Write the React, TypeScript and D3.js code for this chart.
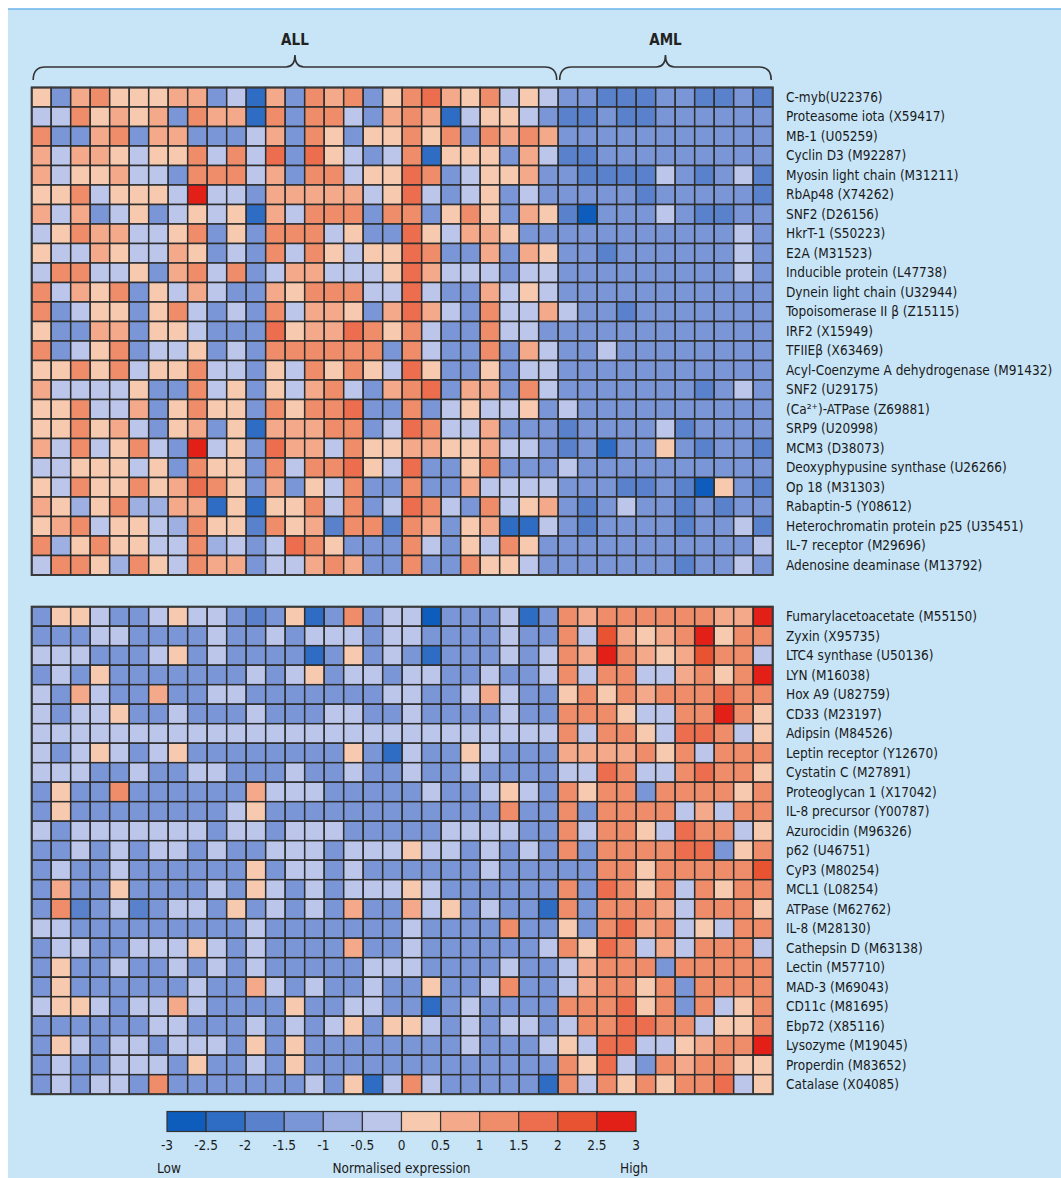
import React from "react";
import * as d3 from "d3";

const groupLabels = ["ALL", "AML"];
const groupSizes = [27, 11];

const topGenes = [
  "C-myb(U22376)", "Proteasome iota (X59417)", "MB-1 (U05259)", "Cyclin D3 (M92287)",
  "Myosin light chain (M31211)", "RbAp48 (X74262)", "SNF2 (D26156)", "HkrT-1 (S50223)",
  "E2A (M31523)", "Inducible protein (L47738)", "Dynein light chain (U32944)",
  "Topoisomerase II β (Z15115)", "IRF2 (X15949)", "TFIIEβ (X63469)",
  "Acyl-Coenzyme A dehydrogenase (M91432)", "SNF2 (U29175)", "(Ca²⁺)-ATPase (Z69881)",
  "SRP9 (U20998)", "MCM3 (D38073)", "Deoxyphypusine synthase (U26266)", "Op 18 (M31303)",
  "Rabaptin-5 (Y08612)", "Heterochromatin protein p25 (U35451)", "IL-7 receptor (M29696)",
  "Adenosine deaminase (M13792)",
];

const bottomGenes = [
  "Fumarylacetoacetate (M55150)", "Zyxin (X95735)", "LTC4 synthase (U50136)", "LYN (M16038)",
  "Hox A9 (U82759)", "CD33 (M23197)", "Adipsin (M84526)", "Leptin receptor (Y12670)",
  "Cystatin C (M27891)", "Proteoglycan 1 (X17042)", "IL-8 precursor (Y00787)",
  "Azurocidin (M96326)", "p62 (U46751)", "CyP3 (M80254)", "MCL1 (L08254)", "ATPase (M62762)",
  "IL-8 (M28130)", "Cathepsin D (M63138)", "Lectin (M57710)", "MAD-3 (M69043)",
  "CD11c (M81695)", "Ebp72 (X85116)", "Lysozyme (M19045)", "Properdin (M83652)",
  "Catalase (X04085)",
];

const topValues: number[][] = [
  [0.2,-1.2,0.8,1.2,0.2,0.2,0.2,0.8,0.8,-1.2,-0.2,-2.2,0.8,-1.2,1.2,0.8,1.2,-1.2,0.2,1.2,1.8,0.8,0.2,1.2,-0.2,0.2,-0.2,-1.2,-1.2,-1.8,-1.8,-1.8,-1.2,-1.2,-1.8,-1.8,-1.2,-1.8],
  [-0.2,-0.2,1.2,0.2,0.8,0.2,0.8,-1.2,1.2,0.8,0.8,-2.2,1.2,-1.2,1.2,1.2,-0.2,-1.2,0.8,1.2,0.8,-2.2,-0.2,0.2,0.2,-0.2,-1.2,-1.8,-1.8,-1.2,-1.8,-1.8,-1.2,-1.2,-1.2,-1.2,-1.2,-1.2],
  [1.2,-1.2,-1.2,0.8,1.2,-1.2,0.8,0.8,-1.2,-1.2,-1.2,-0.2,0.8,-1.2,1.2,0.2,-1.2,0.2,0.2,1.2,0.2,1.2,-1.2,1.2,0.8,1.2,0.8,-1.2,-1.2,-1.2,-1.2,-1.2,-1.2,-1.2,-1.2,-1.2,-1.2,-1.2],
  [0.8,-0.2,0.8,0.8,0.2,-0.2,0.2,0.2,1.2,-0.2,1.2,-0.2,1.8,-1.2,1.8,0.2,-0.2,-1.2,-0.2,1.2,-2.2,0.2,0.2,0.2,-1.2,0.8,-0.2,-1.8,-1.8,-1.2,-1.2,-1.2,-1.2,-1.2,-1.2,-1.2,-1.2,-1.2],
  [0.8,-0.2,0.2,0.2,0.8,-0.2,-0.2,-1.2,1.2,1.2,1.2,-0.2,0.8,-1.2,1.2,1.2,-0.2,0.2,0.2,1.8,1.2,-1.2,-0.2,0.2,0.2,0.8,-1.2,-1.2,-1.8,-1.8,-1.8,-1.8,-0.2,-1.2,-1.8,-1.2,-0.2,-1.8],
  [0.2,0.2,1.2,-0.2,0.2,0.2,0.2,-0.2,2.8,-0.2,-0.2,-1.2,0.8,0.8,0.8,0.8,0.8,-0.2,0.2,1.8,-0.2,-1.2,-0.2,0.2,-1.2,-0.2,-1.2,-1.2,-1.2,-1.2,-1.2,-1.8,-1.2,-1.2,-1.2,-1.2,-1.2,-1.8],
  [0.8,-0.2,0.8,-1.2,-0.2,0.2,-1.2,-0.2,0.2,-0.2,0.2,-2.2,0.8,-0.2,1.2,1.2,1.2,-1.2,1.2,1.2,-1.2,0.2,1.2,0.2,-1.2,0.8,0.2,-1.8,-2.8,-1.2,-1.2,-1.2,-0.2,-1.2,-1.8,-1.8,-1.2,-1.2],
  [-0.2,0.2,1.2,0.8,0.8,-0.2,-0.2,0.2,1.2,-1.2,0.2,-1.2,1.2,1.2,1.2,-0.2,0.2,-1.2,-1.2,1.8,0.2,-0.2,0.8,0.8,0.2,-1.2,-1.2,-1.2,-1.2,-1.2,-1.2,-1.2,-1.2,-1.2,-1.2,-1.2,-0.2,-1.2],
  [0.2,-0.2,-0.2,0.8,0.2,-0.2,-0.2,0.8,0.2,-1.2,-0.2,-1.2,1.2,-0.2,1.2,0.2,-0.2,0.2,0.2,1.8,1.2,-1.2,-1.2,0.8,-1.2,0.8,0.2,-1.2,-1.2,-1.8,-1.2,-1.2,-1.2,-1.2,-1.2,-1.2,-0.2,-1.2],
  [-0.2,1.2,1.2,-0.2,-0.2,0.2,-1.2,0.8,1.2,-0.2,1.2,-1.2,-0.2,0.8,0.8,-0.2,-0.2,-0.2,0.2,1.8,0.8,-0.2,-0.2,-0.2,-1.2,-0.2,-0.2,-1.2,-1.2,-1.2,-1.2,-1.2,-1.2,-1.2,-1.2,-1.2,-0.2,-1.2],
  [1.2,-0.2,0.8,0.2,1.2,-1.2,0.2,-0.2,0.8,-0.2,-1.2,-1.2,0.8,0.2,1.2,1.2,1.2,-0.2,-0.2,1.8,-0.2,-1.2,-1.2,0.8,-0.2,0.2,-0.2,-1.2,-1.2,-1.2,-1.2,-1.2,-1.2,-1.2,-1.2,-1.2,-1.2,-1.2],
  [1.2,-1.2,-0.2,0.2,0.2,-1.2,0.2,1.2,-0.2,-1.2,-0.2,-1.2,1.2,-0.2,0.8,0.8,0.2,-1.2,0.8,1.8,0.8,-0.2,-1.2,1.2,-0.2,-0.2,0.8,-0.2,-1.2,-1.2,-1.8,-1.2,-1.2,-1.2,-1.2,-1.2,-1.2,-1.2],
  [0.2,-1.2,-1.2,0.8,0.8,-1.2,0.2,0.2,-0.2,-1.2,-1.2,-1.2,1.8,0.2,0.8,0.8,1.8,1.2,0.2,1.2,-0.2,-1.2,-1.2,1.2,-0.2,-0.2,-1.2,-1.2,-1.2,-1.2,-1.2,-1.2,-1.2,-1.2,-1.2,-1.2,-1.2,-1.2],
  [1.2,-1.2,-0.2,0.2,1.2,-1.2,-0.2,-0.2,0.2,-1.2,-0.2,-1.2,1.2,1.2,1.2,1.2,1.2,1.2,-1.2,1.2,-0.2,-1.2,-1.2,1.2,-1.2,0.8,-0.2,-1.2,-1.2,-0.2,-1.2,-1.2,-1.2,-1.2,-1.2,-1.2,-1.2,-1.2],
  [0.2,0.2,1.2,0.2,1.2,-0.2,0.2,0.2,1.2,-0.2,-0.2,-1.2,0.2,-0.2,1.2,0.2,1.2,0.2,-0.2,1.8,0.2,-1.2,-1.2,0.2,-1.2,-0.2,-0.2,-1.2,-1.2,-1.2,-1.2,-1.2,-1.2,-1.2,-1.2,-1.2,-1.2,-1.2],
  [0.8,-0.2,-0.2,-0.2,-0.2,0.2,-1.2,-1.2,1.2,-0.2,0.2,-1.2,0.2,-0.2,0.8,1.2,-0.2,-1.2,0.8,1.2,1.8,-1.2,0.8,0.8,-1.2,1.2,-0.2,-1.2,-1.2,-1.2,-1.2,-1.2,-1.2,-1.2,-1.8,-1.2,-0.2,-1.2],
  [0.2,0.2,1.2,-0.2,-0.2,0.8,-1.2,0.2,1.2,0.2,0.2,-1.2,1.2,0.2,1.2,1.2,1.8,-1.2,-1.2,1.2,-1.2,-0.2,0.2,-0.2,-0.2,0.2,-1.2,-0.2,-1.2,-1.2,-1.2,-1.2,-1.2,-1.2,-1.2,-1.2,-1.2,-1.2],
  [0.2,0.2,1.2,0.2,0.8,-0.2,-1.2,0.2,0.8,-1.2,0.2,-2.2,0.8,0.8,0.8,1.2,1.2,-1.2,-0.2,1.8,1.2,-0.2,-0.2,0.8,-1.2,-1.2,-1.2,-1.8,-1.2,-1.2,-1.2,-1.2,-0.2,-1.8,-1.2,-1.2,-1.2,-1.2],
  [0.8,-0.2,1.2,-0.2,0.2,1.2,-0.2,-1.2,2.8,-0.2,0.2,-1.2,1.8,0.8,0.8,-0.2,1.2,0.2,0.2,0.8,0.8,0.2,0.2,0.8,-0.2,-0.2,-1.2,-1.8,-1.2,-2.2,-1.2,-1.2,0.2,-1.2,-1.8,-1.2,-1.2,-1.8],
  [-0.2,-0.2,0.2,0.2,0.2,-0.2,0.2,-1.2,1.2,0.2,0.2,-1.2,1.2,-0.2,1.2,1.2,1.8,0.2,-0.2,1.8,-1.2,-1.2,0.2,1.2,-1.2,-1.2,-1.2,-0.2,-1.2,-1.2,-1.2,-1.2,-1.2,-1.2,-1.2,-1.2,-1.2,-1.2],
  [0.2,-0.2,1.2,0.2,0.2,1.2,0.2,0.8,1.8,1.2,0.2,-1.2,0.8,-1.2,0.2,-0.2,1.2,-1.2,-1.2,1.2,-1.2,-1.2,0.8,-0.2,-0.2,-0.2,-0.2,-1.2,-1.2,-1.2,-1.8,-1.8,-1.2,-1.8,-2.8,0.2,-1.2,-1.8],
  [0.8,0.2,-0.8,0.2,1.2,-0.8,-0.8,0.8,0.8,-2.2,0.2,-2.2,0.2,0.2,1.2,-0.2,1.2,-1.2,-0.2,1.8,1.2,-0.2,-1.2,1.2,-0.2,0.2,0.8,-1.2,-1.8,-1.2,-0.2,-1.2,-1.2,-1.8,-1.2,-1.8,-1.2,-1.2],
  [0.2,0.8,1.2,-0.2,0.2,0.2,-0.2,-0.8,1.2,0.2,0.2,-1.8,1.2,0.2,0.8,-1.8,1.2,1.2,-1.8,1.2,0.8,-1.2,0.2,0.8,-2.2,-2.2,-0.2,-1.2,-1.8,-1.2,-1.2,-1.2,-1.2,-1.8,-1.2,-1.2,-0.2,-1.8],
  [1.2,-0.8,0.2,1.2,0.2,0.2,-0.2,-0.2,1.2,-0.8,-0.2,-1.2,-0.2,1.8,1.2,0.2,-1.2,-1.2,-1.2,1.2,-0.2,-1.2,0.2,-0.2,1.2,0.2,-1.2,-1.2,-1.2,-1.2,-1.2,-1.2,-1.2,-1.2,-1.2,-1.2,-1.2,-0.2],
  [-0.2,1.2,1.2,0.2,-0.8,1.2,0.2,-0.2,1.2,0.8,0.8,-1.2,-0.2,-0.2,0.8,1.2,0.8,-1.2,-1.2,1.2,-1.2,-1.2,1.2,0.2,0.2,-0.2,-1.2,-1.2,-1.2,-1.2,-1.2,-1.2,-1.2,-1.8,-1.2,-1.2,-0.2,-1.2],
];

const bottomValues: number[][] = [
  [-1.2,0.2,0.2,-0.2,-1.2,-1.2,-0.2,0.2,-0.2,-0.2,-1.2,-1.8,-1.2,0.2,-2.2,-1.2,1.2,-1.2,-0.2,-0.2,-2.8,-1.2,-1.2,-1.2,-0.2,-2.2,-1.2,1.2,0.8,1.2,1.2,1.2,1.2,1.2,1.2,0.8,0.8,2.8],
  [-1.2,-1.2,-1.2,-0.2,-0.2,-1.2,-1.2,-1.2,-1.2,-0.2,-1.2,-1.2,-0.2,-1.2,-0.2,-0.2,-0.2,-1.2,-0.2,-0.2,-1.2,-1.2,-1.2,-1.2,-0.2,-1.2,-1.2,1.2,-0.2,2.2,0.8,0.2,0.8,1.2,2.8,0.2,1.2,1.2],
  [-0.2,-0.2,-0.2,-1.2,-1.2,-1.2,-0.2,0.2,-1.2,-0.2,-1.2,-1.2,-1.2,-1.2,-2.2,-1.2,0.2,-1.2,-0.2,-1.2,-2.2,-1.2,-1.2,-1.2,-0.2,-1.2,-0.2,1.2,0.8,2.8,1.2,0.8,0.2,0.8,2.2,1.2,1.2,-0.2],
  [-1.2,-0.2,-1.2,0.2,-1.2,-1.2,-1.2,-1.2,-1.2,-1.2,-1.2,-0.2,-1.2,-0.2,0.2,-1.2,-0.2,-0.2,-1.2,-0.2,-0.2,-1.2,-1.2,-0.2,-1.2,-1.2,-0.2,1.2,-0.2,1.2,1.2,-0.2,-0.2,0.8,1.2,0.2,1.2,2.8],
  [-0.2,-1.2,0.8,-0.2,-1.2,-1.2,0.8,-1.2,-1.2,-0.2,-0.2,-1.2,-1.2,-1.2,-1.2,-1.2,-1.2,-1.2,-0.2,-0.2,-1.2,-1.2,-0.2,0.8,-0.2,-1.2,-1.2,0.2,1.2,0.2,1.2,0.8,1.2,1.2,1.2,1.8,1.2,1.2],
  [-0.2,-1.2,-0.2,-0.2,0.2,-1.2,-1.2,-0.2,-1.2,-1.2,-1.2,-0.2,-1.2,-1.2,-1.2,-0.2,-0.2,-1.2,-1.2,-0.2,-1.2,-1.2,-1.2,-1.2,-0.2,-1.2,-1.2,1.2,1.2,1.2,0.2,-0.2,-0.2,1.2,1.2,2.8,1.2,0.2],
  [-0.2,-0.2,-0.2,-0.2,-0.2,-0.2,-0.2,-0.2,-0.2,-0.2,-0.2,-0.2,-0.2,-0.2,-0.2,-0.2,-0.2,-0.2,-0.2,-0.2,-0.2,-0.2,-0.2,-0.2,-0.2,-0.2,-0.2,1.2,-0.2,1.2,1.2,0.2,-0.2,1.8,1.8,1.2,-0.2,0.2],
  [-0.2,-1.2,-0.2,0.2,-0.2,-1.2,-0.2,0.2,-1.2,-1.2,-1.2,-1.2,-1.2,-1.2,-1.2,-1.2,0.2,-1.2,-2.2,-0.2,-1.2,-1.2,0.2,-0.2,-1.2,-1.2,-1.2,0.8,0.8,0.8,0.8,1.2,0.2,1.2,-0.2,1.2,1.2,1.2],
  [-0.2,-0.2,-0.2,-1.2,-1.2,-0.2,-1.2,-1.2,-0.2,-0.2,-1.2,-1.2,-1.2,-0.2,-1.2,-1.2,-0.2,-1.2,-1.2,-0.2,-1.2,-1.2,-0.2,-1.2,-1.2,-1.2,-1.2,-0.2,-0.2,1.8,1.2,-0.2,-0.2,1.2,1.8,1.2,1.2,0.2],
  [-1.2,0.2,-1.2,-1.2,1.2,-1.2,-1.2,-1.2,-1.2,-1.2,-1.2,0.8,-0.2,-0.2,-0.2,-1.2,-1.2,-1.2,-1.2,-1.2,-0.2,-1.2,-1.2,-0.2,0.2,-0.2,-1.2,1.2,0.2,1.2,1.2,-1.2,1.2,1.2,1.2,1.2,0.2,1.2],
  [-1.2,0.2,-1.2,-1.2,-1.2,-1.2,-1.2,-1.2,-1.2,-1.2,-0.2,0.2,-1.2,-1.2,-1.2,-1.2,-1.2,-1.2,-1.2,-1.2,-1.2,-1.2,-1.2,-1.2,1.2,-1.2,-1.2,1.2,-1.2,1.2,1.2,1.2,1.2,-0.2,0.8,-0.2,1.2,1.2],
  [-0.2,-1.2,-0.2,-0.2,-0.2,-0.2,-0.2,-0.2,-0.2,-1.2,-0.2,-0.2,-1.2,-0.2,-0.2,-0.2,-1.2,-1.2,-1.2,-1.2,-1.2,-0.2,-0.2,-0.2,-0.2,-1.2,-1.2,1.2,-0.2,1.2,1.2,0.2,-0.2,1.8,1.2,1.2,-0.2,0.2],
  [-1.2,-1.2,-0.2,-1.2,-0.2,-1.2,-0.2,-0.2,-1.2,-0.2,-1.2,-1.2,-0.2,-0.2,-0.2,-1.2,-0.2,-0.2,-0.2,0.2,-0.2,-0.2,-1.2,-0.2,-1.2,-0.2,-1.2,1.2,-1.2,1.2,1.2,1.2,1.2,1.8,1.8,-1.2,0.2,1.2],
  [-1.2,-0.2,-1.2,-1.2,-0.2,-1.2,-1.2,-1.2,-1.2,-1.2,-1.2,0.2,-1.2,-0.2,-0.2,-1.2,-0.2,-1.2,-1.2,-1.2,-1.2,-1.2,-1.2,-0.2,-1.2,-1.2,-1.2,-1.2,-1.2,1.2,1.2,0.2,1.2,1.2,1.2,1.2,1.2,2.2],
  [-1.2,0.8,-1.2,-1.2,0.2,-1.2,-1.2,-1.2,-1.2,-0.2,-1.2,0.2,-0.2,-1.2,-0.2,-1.2,-0.2,-0.2,-0.2,0.2,-0.2,-1.2,-1.2,-1.2,-1.2,-1.2,-1.2,1.2,-1.2,1.8,1.2,0.2,1.2,-0.2,1.2,0.2,1.2,1.2],
  [-1.2,1.2,-1.8,-1.2,-0.2,-1.8,-1.2,-0.2,-0.2,-1.2,0.2,-1.2,-0.2,-1.2,-0.2,-1.2,0.8,-1.2,-1.2,0.8,-0.2,0.2,-1.2,-0.2,-1.2,-1.2,-2.2,1.2,-1.2,1.2,1.2,1.2,0.8,-0.2,1.2,1.2,1.2,0.2],
  [-0.2,-0.2,-1.2,-1.2,-1.2,-1.2,-1.2,-1.2,-1.2,-1.2,-1.2,-0.2,-1.2,-1.2,-1.2,-1.2,-1.2,-1.2,-1.2,-0.2,-1.2,-1.2,-1.2,-1.2,1.2,-1.2,-1.2,0.2,-1.2,1.2,1.8,0.8,1.2,-0.2,0.2,-0.2,1.2,1.2],
  [-1.2,-0.2,-0.2,-1.2,-1.2,-0.2,-0.2,-0.2,0.2,-0.2,-1.2,-0.2,-1.2,-1.2,-1.2,-1.2,0.8,-1.2,-1.2,-0.2,-1.2,-1.2,-1.2,-1.2,-1.2,-1.2,-0.2,1.2,0.2,1.8,1.2,-0.2,0.8,-0.2,1.2,1.2,1.2,-0.2],
  [-1.2,0.2,-1.2,-1.2,-0.2,-1.2,-1.2,-0.2,-1.2,-0.2,-1.2,-0.2,-1.2,-1.2,-1.2,-1.2,-1.2,-0.2,-0.2,-0.2,-1.2,-1.2,-1.2,-1.2,-0.2,-1.2,-1.2,-0.2,0.8,1.2,1.2,1.2,-1.2,1.2,1.2,1.2,1.2,1.2],
  [-1.2,0.2,-1.2,-1.2,-1.2,-1.2,-1.2,-1.2,-0.2,-1.2,-1.2,0.8,-0.2,-1.2,-0.2,-1.2,-1.2,-0.2,-1.2,-1.2,0.2,-1.2,-1.2,-0.2,1.2,-1.2,-1.2,-0.2,0.8,1.2,1.2,0.2,1.2,-1.2,1.2,1.2,1.2,1.2],
  [-0.2,0.2,0.2,-0.2,-1.2,-0.2,-0.2,0.8,-0.2,-1.2,-1.2,-1.2,-1.2,0.2,-1.2,-1.2,-0.2,-0.2,-1.2,-1.2,-2.2,-1.2,-0.2,-1.2,-1.2,-1.2,-1.2,1.2,1.2,1.2,1.8,0.2,1.2,-1.2,1.2,-0.2,0.2,1.2],
  [-1.2,-1.2,-1.2,-1.2,-1.2,-1.2,-0.2,-0.2,-1.2,-1.2,-1.2,-0.2,-1.2,-0.2,-1.2,-0.2,0.2,-1.2,0.2,0.2,-0.2,-1.2,-0.2,-1.2,-0.2,-0.2,-1.2,-0.2,1.2,1.2,1.8,1.8,1.2,1.2,-0.2,0.2,0.2,1.2],
  [-1.2,0.2,-0.2,-1.2,-0.2,-0.2,-1.2,-0.2,-0.2,-0.2,-1.2,0.2,-1.2,0.2,-1.2,-1.2,-1.2,-1.2,-1.2,-1.2,-1.2,-1.2,-0.2,-1.2,-1.2,-1.2,-0.2,0.2,-0.2,1.8,1.8,-0.2,-0.2,0.2,0.8,1.2,1.2,2.8],
  [-1.2,-0.2,-1.2,-1.2,-0.2,-0.2,-0.2,-1.2,0.2,-1.2,-1.2,-0.2,-1.2,0.2,-1.2,-1.2,-1.2,-1.2,-1.2,-1.2,-1.2,-1.2,-1.2,-1.2,-1.2,-1.2,-1.2,1.2,0.2,1.8,-0.2,-1.2,1.2,0.8,1.2,1.2,0.2,0.2],
  [-1.2,-0.2,-1.2,-0.2,-0.2,-1.2,1.2,-1.2,-1.2,-1.2,-1.2,-1.2,-1.2,-1.2,-0.2,-1.2,0.2,-2.2,-0.2,1.2,-0.2,-1.2,-1.2,-1.2,-1.2,-1.2,-2.2,1.2,-0.2,1.2,0.2,1.2,0.2,1.2,1.2,1.8,-0.2,0.2],
];

const legendTicks = [-3, -2.5, -2, -1.5, -1, -0.5, 0, 0.5, 1, 1.5, 2, 2.5, 3];
const legendTickLabels = ["-3", "-2.5", "-2", "-1.5", "-1", "-0.5", "0", "0.5", "1", "1.5", "2", "2.5", "3"];
const legendColors = [
  "#0e5dbd", "#2f6cc3", "#5a82cc", "#7a96d6", "#9eafe2", "#bcc6ea",
  "#f7c9ae", "#f4a98a", "#ef8d6b", "#ec6e4e", "#e85331", "#e32018",
];
const legendEndLabels = ["Low", "Normalised expression", "High"];

const FONT = "'Liberation Sans Narrow', 'DejaVu Sans Condensed', 'Arial Narrow', sans-serif";

export default function App() {
  const W = 1061;
  const H = 1178;
  const nCols = groupSizes.reduce((a, b) => a + b, 0);
  const cell = 19.5;
  const x0 = 31.7;
  const x = d3.scaleBand<number>().domain(d3.range(nCols)).range([x0, x0 + cell * nCols]);
  const yTop = d3.scaleBand<number>().domain(d3.range(topGenes.length)).range([87.5, 87.5 + cell * topGenes.length]);
  const yBot = d3.scaleBand<number>().domain(d3.range(bottomGenes.length)).range([606.7, 606.7 + cell * bottomGenes.length]);
  const color = d3.scaleThreshold<number, string>().domain(legendTicks.slice(1, -1)).range(legendColors);
  const lx = d3.scaleLinear().domain([-3, 3]).range([167, 636]);

  const bw = x.bandwidth();
  const stroke = "#2e2e2e";

  // braces
  let start = 0;
  const braces = groupSizes.map((n, gi) => {
    const a = x(start)! + 1.5;
    const b = x(start + n - 1)! + bw - 1.5;
    start += n;
    const tip = (a + b) / 2;
    const yb = 80, ym = 67, yt = 55;
    const r = 12;
    const p = d3.path();
    p.moveTo(a, yb);
    p.quadraticCurveTo(a, ym, a + r, ym);
    p.lineTo(tip - 9, ym);
    p.quadraticCurveTo(tip, ym, tip, yt);
    p.quadraticCurveTo(tip, ym, tip + 9, ym);
    p.lineTo(b - r, ym);
    p.quadraticCurveTo(b, ym, b, yb);
    return { d: p.toString(), tip, label: groupLabels[gi] };
  });

  const heat = (values: number[][], y: d3.ScaleBand<number>, genes: string[], key: string) => (
    <g key={key}>
      {values.map((row, ri) =>
        row.map((v, ci) => (
          <rect
            key={`${key}-${ri}-${ci}`}
            x={x(ci)}
            y={y(ri)}
            width={bw}
            height={y.bandwidth()}
            fill={color(v)}
            stroke={stroke}
            strokeWidth={1.5}
          />
        ))
      )}
      <rect
        x={x(0)}
        y={y(0)}
        width={bw * nCols}
        height={y.bandwidth() * genes.length}
        fill="none"
        stroke="#3a3a3a"
        strokeWidth={2}
      />
      {genes.map((g, gi) => (
        <text
          key={`${key}-lbl-${gi}`}
          x={786}
          y={y(gi)! + y.bandwidth() / 2 + 4.6}
          fontSize={13.5}
          fill="#1a1a1a"
          fontFamily={FONT}
        >
          {g}
        </text>
      ))}
    </g>
  );

  return (
    <svg
      width={W}
      height={H}
      style={{ position: "absolute", left: 0, top: 0, display: "block" }}
    >
      <rect x={0} y={0} width={W} height={H} fill="#ffffff" />
      <rect x={8} y={9} width={W - 8} height={H - 9} fill="#c8e5f8" />
      <line x1={8} x2={W} y1={9} y2={9} stroke="#6ab2e8" strokeWidth={1.5} />
      {braces.map((b) => (
        <g key={b.label}>
          <path d={b.d} fill="none" stroke="#333" strokeWidth={1.6} />
          <text
            x={b.tip}
            y={45}
            textAnchor="middle"
            fontSize={15}
            fontWeight="bold"
            fontFamily={FONT}
            fill="#222"
          >
            {b.label}
          </text>
        </g>
      ))}
      {heat(topValues, yTop, topGenes, "top")}
      {heat(bottomValues, yBot, bottomGenes, "bot")}
      <g>
        {legendColors.map((c, i) => (
          <rect
            key={`lg-${i}`}
            x={lx(legendTicks[i])}
            y={1111.5}
            width={lx(legendTicks[i + 1]) - lx(legendTicks[i])}
            height={20}
            fill={c}
            stroke="#333"
            strokeWidth={1.2}
          />
        ))}
        {legendTicks.map((t, i) => (
          <text
            key={`lt-${i}`}
            x={lx(t)}
            y={1150}
            textAnchor="middle"
            fontSize={13.5}
            fontFamily={FONT}
            fill="#1a1a1a"
          >
            {legendTickLabels[i]}
          </text>
        ))}
        <text x={157} y={1173} fontSize={13.5} fontFamily={FONT} fill="#1a1a1a">
          {legendEndLabels[0]}
        </text>
        <text x={lx(0)} y={1173} textAnchor="middle" fontSize={13.5} fontFamily={FONT} fill="#1a1a1a">
          {legendEndLabels[1]}
        </text>
        <text x={648} y={1173} textAnchor="end" fontSize={13.5} fontFamily={FONT} fill="#1a1a1a">
          {legendEndLabels[2]}
        </text>
      </g>
    </svg>
  );
}
